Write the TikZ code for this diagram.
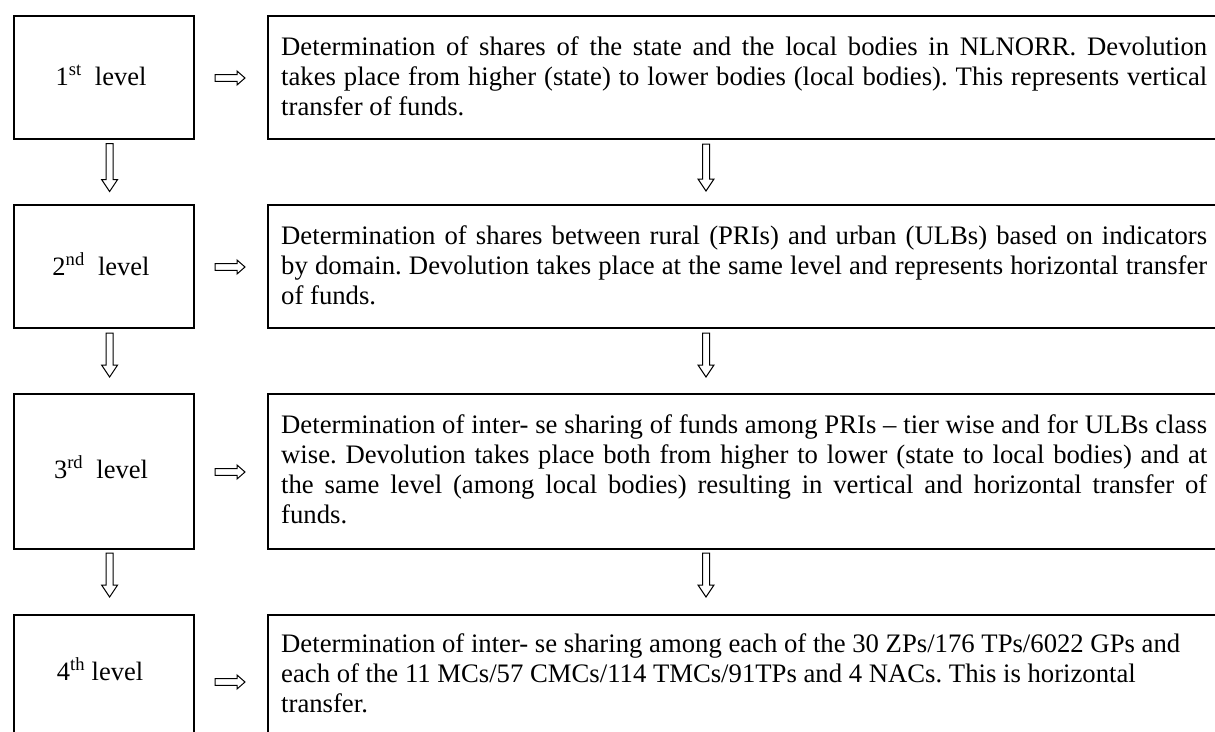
\documentclass[tikz,border=0pt]{standalone}
\usepackage{fontspec}
\setmainfont{Liberation Serif}
\usetikzlibrary{calc}
\frenchspacing
\newcommand\dnarr[2]{\draw[hollow] (#1) ++(-3.5,0) -- ++(7,0) -- ++(0,#2-12) -- ++(4.5,0) -- ++(-8,12) -- ++(-8,-12) -- ++(4.5,0) -- cycle;}
\newcommand\rtarr[1]{\draw[hollow] (#1) ++(0,-3.3) -- ++(22,0) -- ++(0,-3.7) -- ++(8,7) -- ++(-8,7) -- ++(0,-3.7) -- ++(-22,0) -- cycle;}
\newcommand\jl[1]{\makebox[\linewidth][s]{#1}}
\begin{document}
\begin{tikzpicture}[x=1pt,y=-1pt,
  box/.style={draw, line width=2pt, inner sep=0pt, anchor=north west},
  hollow/.style={draw, line width=1pt, fill=white, line join=miter},
  txt/.style={inner sep=0pt, anchor=base west, text width=926pt, align=justify, font=\fontsize{26.7}{30}\selectfont\frenchspacing},
  lab/.style={inner sep=0pt, anchor=base, font=\fontsize{26.5}{30}\selectfont}]
\useasboundingbox (0,0) rectangle (1215,731);
\clip (0,0) rectangle (1215,731);
% left boxes
\node[box, minimum width=180pt, minimum height=123pt] (L1) at (13,15) {};
\node[box, minimum width=180pt, minimum height=123pt] (L2) at (13,204) {};
\node[box, minimum width=180pt, minimum height=155pt] (L3) at (13,393) {};
\node[box, minimum width=180pt, minimum height=200pt] (L4) at (13,614) {};
% right boxes
\node[box, minimum width=1000pt, minimum height=123pt] (R1) at (267,15) {};
\node[box, minimum width=1000pt, minimum height=123pt] (R2) at (267,204) {};
\node[box, minimum width=1000pt, minimum height=155pt] (R3) at (267,393) {};
\node[box, minimum width=1000pt, minimum height=200pt] (R4) at (267,614) {};
% labels
\node[lab] (lab1) at (101,85) {1\textsuperscript{st}\ \ level};
\node[lab] (lab2) at (101,275) {2\textsuperscript{nd}\ \ level};
\node[lab] (lab3) at (101,478) {3\textsuperscript{rd}\ \ level};
\node[lab] (lab4) at (100,680) {4\textsuperscript{th} level};
% texts
\node[txt] (t1) at (281,55) {\jl{Determination of shares of the state and the local bodies in NLNORR. Devolution}\\
\jl{takes place from higher (state) to lower bodies (local bodies). This represents vertical}\\
transfer of funds.};
\node[txt] (t2) at (281,244) {\jl{Determination of shares between rural (PRIs) and urban (ULBs) based on indicators}\\
\jl{by domain. Devolution takes place at the same level and represents horizontal transfer}\\
of funds.};
\node[txt] (t3) at (281,433) {\jl{Determination of inter- se sharing of funds among PRIs -- tier wise and for ULBs class}\\
\jl{wise. Devolution takes place both from higher to lower (state to local bodies) and at}\\
\jl{the same level (among local bodies) resulting in vertical and horizontal transfer of}\\
funds.};
\node[txt] (t4) at (281,652) {Determination of inter- se sharing among each of the 30 ZPs/176 TPs/6022 GPs and\\
each of the 11 MCs/57 CMCs/114 TMCs/91TPs and 4 NACs. This is horizontal\\
transfer.};
% arrow anchors
\coordinate (a1) at (215,78);
\coordinate (a2) at (215,267);
\coordinate (a3) at (215,472);
\coordinate (a4) at (215,682);
\coordinate (dl1) at (109.6,143.5);
\coordinate (dl2) at (109.6,333);
\coordinate (dl3) at (109.6,553);
\coordinate (dr1) at (706,144);
\coordinate (dr2) at (706,333);
\coordinate (dr3) at (706,553);
\rtarr{a1}\rtarr{a2}\rtarr{a3}\rtarr{a4}
\dnarr{dl1}{48}\dnarr{dl2}{44}\dnarr{dl3}{44}
\dnarr{dr1}{47}\dnarr{dr2}{44}\dnarr{dr3}{44}
\end{tikzpicture}
\end{document}
